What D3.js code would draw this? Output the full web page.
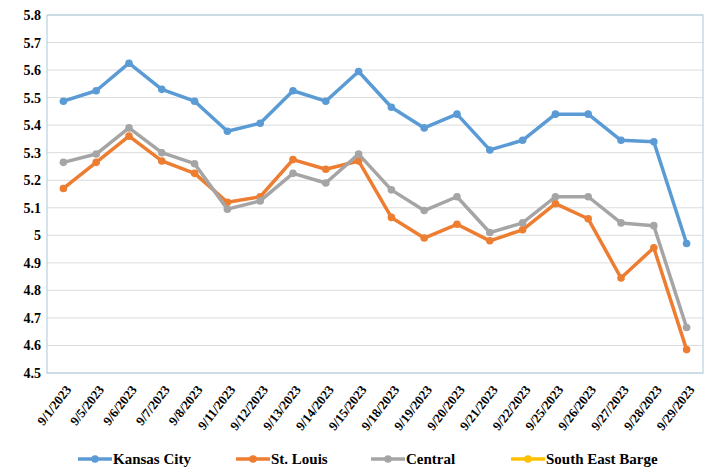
<!DOCTYPE html>
<html>
<head>
<meta charset="utf-8">
<script src="https://cdn.jsdelivr.net/npm/d3@7"></script>
<style>
body { margin: 0; background: #fff; }
svg text { font-family: "Times New Roman", "Liberation Serif", "DejaVu Serif", serif !important; font-weight: bold; fill: #000; }
</style>
</head>
<body>
<div id="chart"></div>
<script>
var dates = ["9/1/2023", "9/5/2023", "9/6/2023", "9/7/2023", "9/8/2023", "9/11/2023", "9/12/2023",
	"9/13/2023", "9/14/2023", "9/15/2023", "9/18/2023", "9/19/2023", "9/20/2023", "9/21/2023",
	"9/22/2023", "9/25/2023", "9/26/2023", "9/27/2023", "9/28/2023", "9/29/2023"];

var kansasCity = [5.487, 5.525, 5.625, 5.53, 5.487, 5.378, 5.407, 5.525, 5.487, 5.595,
	5.465, 5.39, 5.44, 5.31, 5.345, 5.44, 5.44, 5.345, 5.34, 4.97];
var stLouis = [5.17, 5.265, 5.36, 5.27, 5.225, 5.12, 5.14, 5.275, 5.24, 5.27,
	5.065, 4.99, 5.04, 4.98, 5.02, 5.115, 5.06, 4.845, 4.955, 4.585];
var central = [5.265, 5.295, 5.39, 5.3, 5.26, 5.095, 5.125, 5.225, 5.19, 5.295,
	5.165, 5.09, 5.14, 5.01, 5.045, 5.14, 5.14, 5.045, 5.035, 4.665];
var southEastBarge = [];

var seriesNames = ["Kansas City", "St. Louis", "Central", "South East Barge"];
var seriesValues = [kansasCity, stLouis, central, southEastBarge];
var colors = ["#5b9bd5", "#ed7d31", "#a5a5a5", "#ffc000"];
var yTicks = [4.5, 4.6, 4.7, 4.8, 4.9, 5, 5.1, 5.2, 5.3, 5.4, 5.5, 5.6, 5.7, 5.8];

var width = 716, height = 471;
var plotLeft = 47, plotRight = 703, plotTop = 15, plotBottom = 373;

var svg = d3.select("#chart").append("svg")
	.attr("width", width)
	.attr("height", height);

var x = d3.scaleBand().domain(dates).range([plotLeft, plotRight]);
var y = d3.scaleLinear().domain([4.5, 5.8]).range([plotBottom, plotTop]);

// grid
svg.append("g")
	.selectAll("line")
	.data(yTicks)
	.enter().append("line")
	.attr("x1", plotLeft)
	.attr("x2", plotRight)
	.attr("y1", d => y(d))
	.attr("y2", d => y(d))
	.attr("stroke", "#dcdcdc")
	.attr("stroke-width", 1);

// frame
svg.append("rect")
	.attr("x", plotLeft)
	.attr("y", plotTop)
	.attr("width", plotRight - plotLeft)
	.attr("height", plotBottom - plotTop)
	.attr("fill", "none")
	.attr("stroke", "#a9cad9")
	.attr("stroke-width", 1);

// y axis labels
var yAxis = d3.axisLeft(y).tickValues(yTicks).tickSize(0).tickPadding(6)
	.tickFormat(d => String(+d.toFixed(1)));
var gy = svg.append("g").attr("transform", "translate(" + plotLeft + ",0)").call(yAxis);
gy.attr("font-family", null);
gy.select(".domain").remove();
gy.selectAll("text")
	.style("font-size", "14px")
	.attr("fill", "#000");

// x axis labels
var xAxis = d3.axisBottom(x).tickSize(0).tickPadding(0);
var gx = svg.append("g").attr("transform", "translate(0," + plotBottom + ")").call(xAxis);
gx.attr("font-family", null);
gx.select(".domain").remove();
gx.selectAll("text")
	.style("font-size", "13px")
	.attr("fill", "#000")
	.attr("text-anchor", "end")
	.attr("dy", "0.35em")
	.attr("y", 0)
	.attr("x", 0)
	.attr("transform", "translate(5,14) rotate(-52)");

var line = d3.line()
	.x((d, i) => x(dates[i]) + x.bandwidth() / 2)
	.y(d => y(d));

seriesValues.forEach(function(values, index) {
	if (values.length === 0) return;
	svg.append("path")
		.datum(values)
		.attr("d", line)
		.attr("fill", "none")
		.attr("stroke", colors[index])
		.attr("stroke-width", 3.5)
		.attr("stroke-linejoin", "round");
	svg.append("g")
		.selectAll("circle")
		.data(values)
		.enter().append("circle")
		.attr("cx", (d, i) => x(dates[i]) + x.bandwidth() / 2)
		.attr("cy", d => y(d))
		.attr("r", 3.8)
		.attr("fill", colors[index]);
});

// legend
var legendX = [78, 236, 371, 511];
var legend = svg.append("g");
seriesNames.forEach(function(name, index) {
	var g = legend.append("g").attr("transform", "translate(" + legendX[index] + ",459)");
	g.append("line")
		.attr("x1", 0).attr("x2", 34)
		.attr("y1", 0).attr("y2", 0)
		.attr("stroke", colors[index])
		.attr("stroke-width", 3.5);
	g.append("circle")
		.attr("cx", 17).attr("cy", 0).attr("r", 3.8)
		.attr("fill", colors[index]);
	g.append("text")
		.attr("x", 35)
		.attr("y", 0)
		.attr("dy", "0.35em")
		.style("font-size", "15px")
		.text(name);
});
</script>
</body>
</html>
